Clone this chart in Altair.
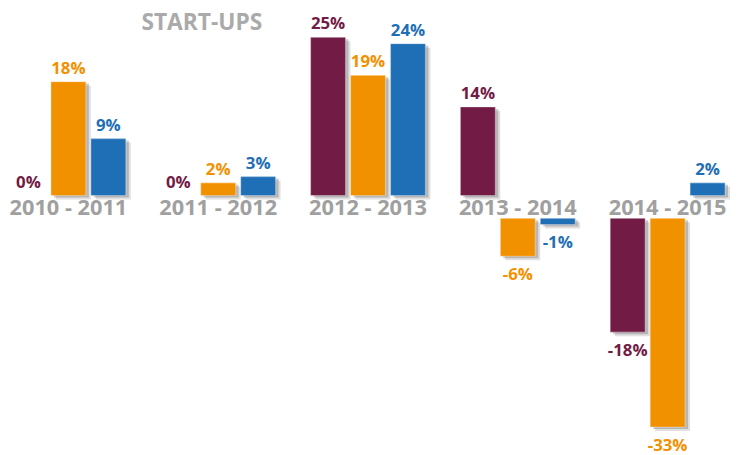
import altair as alt
import pandas as pd

periods = ["2010 - 2011", "2011 - 2012", "2012 - 2013", "2013 - 2014", "2014 - 2015"]
series = ["Série 1", "Série 2", "Série 3"]
values_s1 = [0, 0, 25, 14, -18]
values_s2 = [18, 2, 19, -6, -33]
values_s3 = [9, 3, 24, -1, 2]
colors = ["#721b45", "#f29100", "#1f6fb6"]
title_text = "START-UPS"

rows = []
for s, vals in zip(series, [values_s1, values_s2, values_s3]):
    for p, v in zip(periods, vals):
        rows.append({"period": p, "series": s, "v": v})
df = pd.DataFrame(rows)
cats = pd.DataFrame({"period": periods})
tdf = pd.DataFrame({"t": [title_text]})

GAP = 3.6  # gap band (in value units) between positive and negative halves
W = 722
PI = 35 / 150
BW = W / (5 - PI) * (1 - PI)

xs = alt.X("period:N", sort=periods, axis=None,
           scale=alt.Scale(paddingInner=PI, paddingOuter=0))


def xoff(dx=0):
    return alt.XOffset("series:N", sort=series,
                       scale=alt.Scale(type="band", paddingInner=0.125, paddingOuter=0,
                                       range=[dx, BW + dx]))


ysc = alt.Scale(domain=[-40, 28], nice=False, zero=False)
col = alt.Color("series:N", sort=series, legend=None,
                scale=alt.Scale(domain=series, range=colors))

base = alt.Chart(df).transform_calculate(
    y0=f"datum.v < 0 ? -{GAP} : 0",
    y1=f"datum.v < 0 ? datum.v - {GAP} : datum.v",
    lab="toString(datum.v) + '%'",
)


def shadow_layer(dx, dy, op):
    return base.mark_bar(color="#555555", opacity=op, yOffset=dy, y2Offset=dy).encode(
        x=xs, xOffset=xoff(dx),
        y=alt.Y("y0:Q", scale=ysc, axis=None), y2="y1:Q",
    )


shadow1 = shadow_layer(5, 4, 0.18)
shadow2 = shadow_layer(3, 2, 0.3)

bars = base.mark_bar(stroke="white", strokeWidth=1.2, strokeOpacity=0.3).encode(
    x=xs, xOffset=xoff(),
    y=alt.Y("y0:Q", scale=ysc, axis=None), y2="y1:Q",
    color=col,
)

pos_lab = base.transform_filter("datum.v >= 0").mark_text(
    baseline="bottom", dy=-4, font="Open Sans", fontWeight="bold", fontSize=17
).encode(x=xs, xOffset=xoff(), y=alt.Y("y1:Q", scale=ysc), text="lab:N", color=col)

neg_lab = base.transform_filter("datum.v < 0").mark_text(
    baseline="top", dy=11, font="Open Sans", fontWeight="bold", fontSize=17
).encode(x=xs, xOffset=xoff(), y=alt.Y("y1:Q", scale=ysc), text="lab:N", color=col)

cat_lab = alt.Chart(cats).mark_text(
    baseline="middle", font="Open Sans", fontWeight="bold", fontSize=22,
    color="#a0a0a0", dy=1
).encode(x=xs, y=alt.datum(-GAP / 2, scale=ysc), text="period:N")

title = alt.Chart(tdf).mark_text(
    font="Open Sans", fontWeight="bold", fontSize=23, color="#aaaaaa",
    baseline="middle", align="center"
).encode(x=alt.value(193), y=alt.value(5), text="t:N")

chart = alt.layer(shadow1, shadow2, bars, pos_lab, neg_lab, cat_lab, title).properties(
    width=W, height=435,
    autosize=alt.AutoSizeParams(type="none"),
    padding={"left": 3, "top": 8, "right": 5, "bottom": 4},
).resolve_scale(xOffset="independent").configure_view(stroke=None)

chart.save("out.html", embed_options={"renderer": "svg", "actions": False})
